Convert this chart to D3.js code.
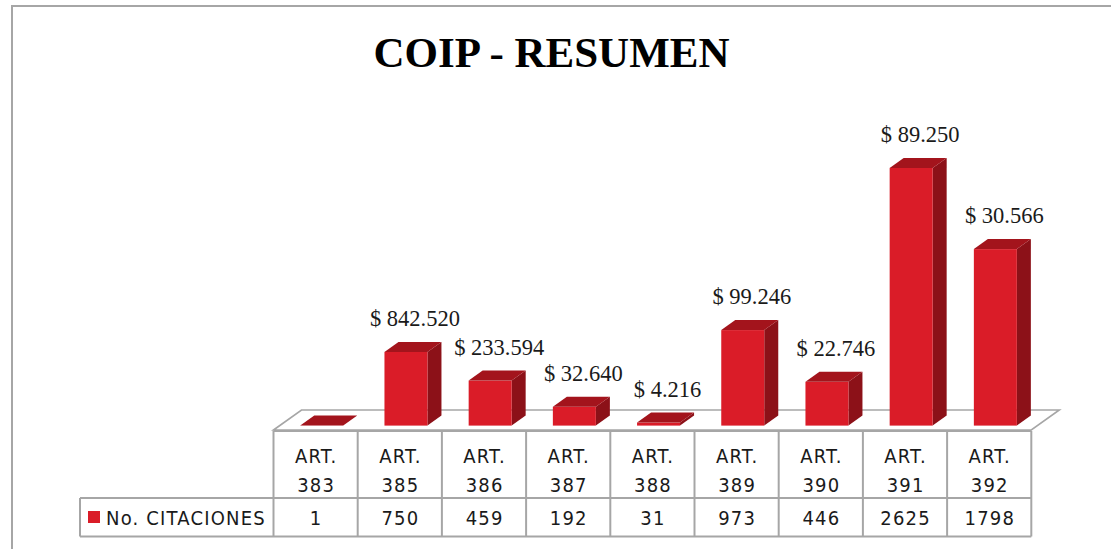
<!DOCTYPE html>
<html>
<head>
<meta charset="utf-8">
<script src="https://cdn.jsdelivr.net/npm/d3@7"></script>
<style>
  html, body { margin: 0; padding: 0; background: #fff; }
  svg { display: block; }
</style>
</head>
<body>
<svg id="chart" width="1111" height="549"></svg>
<script>
// Chart data
const chartTitle = "COIP - RESUMEN";
const seriesName = "No. CITACIONES";
const categories = ["ART. 383", "ART. 385", "ART. 386", "ART. 387", "ART. 388", "ART. 389", "ART. 390", "ART. 391", "ART. 392"];
const citaciones = [1, 750, 459, 192, 31, 973, 446, 2625, 1798];
const montos = [null, "$ 842.520", "$ 233.594", "$ 32.640", "$ 4.216", "$ 99.246", "$ 22.746", "$ 89.250", "$ 30.566"];

const svg = d3.select("#chart");

const colors = {
  front: "#da1c28",
  side: "#8c1118",
  top: "#a3141c",
  grid: "#a6a6a6",
  text: "#1a1a1a"
};

const sansFont = "'DejaVu Sans Condensed', 'DejaVu Sans', sans-serif";
const serifFont = "'Liberation Serif', 'Times New Roman', serif";
const tableFontSize = 20;
const tableSpacing = 1.2;

// Outer chart frame (open on right/bottom edges)
svg.append("rect")
  .attr("x", 12).attr("y", 6)
  .attr("width", 1120).attr("height", 560)
  .attr("fill", "none")
  .attr("stroke", colors.grid)
  .attr("stroke-width", 2);

// Title
svg.append("text")
  .attr("x", 551.5).attr("y", 67)
  .attr("text-anchor", "middle")
  .attr("font-family", serifFont)
  .attr("font-weight", "bold")
  .attr("font-size", 43)
  .attr("fill", "#000")
  .text(chartTitle);

// Scales
const x = d3.scaleBand()
  .domain(categories)
  .range([273.5, 1031.3])
  .paddingInner(0).paddingOuter(0);

const floorFront = 430;            // y of the front edge of the floor
const depthDx = 28, depthDy = -20; // full floor depth offset
const y = d3.scaleLinear().domain([0, 3000]).range([0, 294.5]); // bar height in px

// Floor
const x0 = x.range()[0], x1 = x.range()[1];
svg.append("path")
  .attr("d", d3.line()([
    [x0, floorFront], [x0 + depthDx, floorFront + depthDy],
    [x1 + depthDx, floorFront + depthDy], [x1, floorFront]
  ]) + "Z")
  .attr("fill", "#fff")
  .attr("stroke", colors.grid)
  .attr("stroke-width", 1.6);

// Bars (3D boxes)
const barFrac = 0.22;               // depth position of the bar front face
const barW = 43;
const barDx = 14, barDy = -10;      // bar depth
const bars = svg.append("g");
const barData = categories.map((c, i) => ({ cat: c, value: citaciones[i], label: montos[i] }));

barData.forEach(d => {
  const cx = x(d.cat) + x.bandwidth() / 2 + depthDx * barFrac;
  const bottom = floorFront + depthDy * barFrac;
  const h = y(d.value);
  const left = cx - barW / 2, right = cx + barW / 2, top = bottom - h;
  d.cx = cx; d.top = top;
  const g = bars.append("g");
  // side face
  g.append("path")
    .attr("d", d3.line()([[right, bottom], [right, top], [right + barDx, top + barDy], [right + barDx, bottom + barDy]]) + "Z")
    .attr("fill", colors.side);
  // front face
  g.append("rect")
    .attr("x", left).attr("y", top)
    .attr("width", barW).attr("height", Math.max(h, 0))
    .attr("fill", colors.front);
  // top face
  g.append("path")
    .attr("d", d3.line()([[left, top], [right, top], [right + barDx, top + barDy], [left + barDx, top + barDy]]) + "Z")
    .attr("fill", colors.top);
});

// Data labels
svg.append("g").selectAll("text")
  .data(barData.filter(d => d.label))
  .join("text")
  .attr("x", d => d.cx + 9)
  .attr("y", d => d.top + barDy - 16)
  .attr("text-anchor", "middle")
  .attr("font-family", serifFont)
  .attr("font-size", 22.5)
  .attr("fill", colors.text)
  .text(d => d.label);

// Data table
const rowTop = 431, rowMid = 498, rowBottom = 536.5, legendLeft = 80;
const table = svg.append("g")
  .attr("stroke", colors.grid)
  .attr("stroke-width", 2)
  .attr("fill", "none");

table.append("line").attr("x1", x0).attr("x2", x1).attr("y1", rowTop).attr("y2", rowTop);
table.append("line").attr("x1", legendLeft).attr("x2", x1).attr("y1", rowMid).attr("y2", rowMid);
table.append("line").attr("x1", legendLeft).attr("x2", x1).attr("y1", rowBottom).attr("y2", rowBottom);
table.append("line").attr("x1", legendLeft).attr("x2", legendLeft).attr("y1", rowMid).attr("y2", rowBottom);
categories.forEach(c => {
  table.append("line").attr("x1", x(c)).attr("x2", x(c)).attr("y1", rowTop).attr("y2", rowBottom);
});
table.append("line").attr("x1", x1).attr("x2", x1).attr("y1", rowTop).attr("y2", rowBottom);

// Category labels (two lines)
const catText = svg.append("g")
  .attr("font-family", sansFont)
  .attr("font-size", tableFontSize)
  .attr("letter-spacing", tableSpacing)
  .attr("fill", colors.text)
  .attr("text-anchor", "middle");

categories.forEach(c => {
  const parts = c.split(" ");
  const cx = x(c) + x.bandwidth() / 2 + tableSpacing / 2;
  catText.append("text").attr("x", cx).attr("y", 463).text(parts[0]);
  catText.append("text").attr("x", cx).attr("y", 491.5).text(parts[1]);
});

// Value row
catText.selectAll("text.val")
  .data(barData)
  .join("text")
  .attr("class", "val")
  .attr("x", d => x(d.cat) + x.bandwidth() / 2 + tableSpacing / 2)
  .attr("y", 525)
  .text(d => d.value);

// Legend cell
svg.append("rect")
  .attr("x", 88).attr("y", 511)
  .attr("width", 12).attr("height", 12)
  .attr("fill", colors.front);
svg.append("text")
  .attr("x", 106).attr("y", 524.5)
  .attr("font-family", sansFont)
  .attr("font-size", tableFontSize)
  .attr("letter-spacing", tableSpacing)
  .attr("fill", colors.text)
  .text(seriesName);
</script>
</body>
</html>
